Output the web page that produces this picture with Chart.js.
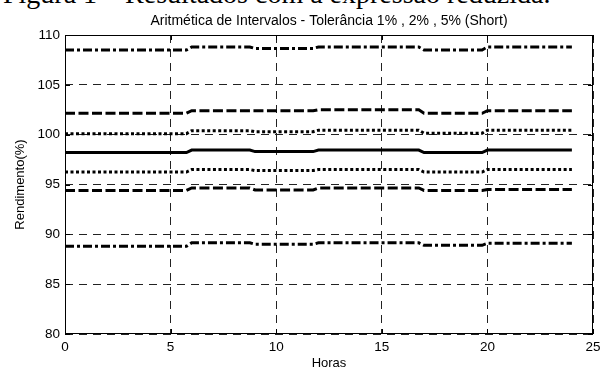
<!DOCTYPE html>
<html>
<head>
<meta charset="utf-8">
<script src="https://cdn.jsdelivr.net/npm/chart.js@4/dist/chart.umd.min.js"></script>
<style>
    body { margin: 0; background: #fff; width: 612px; height: 371px; overflow: hidden; position: relative; }
    #caption { position: absolute; left: 3px; top: -20px; font-family: "Liberation Serif", "Times New Roman", serif; font-size: 28px; line-height: 28px; white-space: nowrap; color: #000; }
    #chart { position: absolute; left: 0; top: 0; }
</style>
</head>
<body>
<div id="caption">Figura 1 – Resultados com a expressão reduzida.</div>
<canvas id="chart" width="612" height="371"></canvas>
<script>
const hours = [0, 5.75, 6, 8.75, 9, 11.75, 12, 16.75, 17, 19.75, 20, 24];

const upper5 = [108.5, 108.5, 108.8, 108.8, 108.65, 108.65, 108.8, 108.8, 108.5, 108.5, 108.8, 108.8];
const upper2 = [102.15, 102.15, 102.4, 102.4, 102.4, 102.4, 102.5, 102.5, 102.15, 102.15, 102.4, 102.4];
const upper1 = [100.1, 100.1, 100.4, 100.4, 100.3, 100.3, 100.45, 100.45, 100.15, 100.15, 100.45, 100.45];
const nominal = [98.2, 98.2, 98.45, 98.45, 98.3, 98.3, 98.45, 98.45, 98.2, 98.2, 98.45, 98.45];
const lower1 = [96.25, 96.25, 96.5, 96.5, 96.4, 96.4, 96.5, 96.5, 96.25, 96.25, 96.5, 96.5];
const lower2 = [94.4, 94.4, 94.65, 94.65, 94.45, 94.45, 94.65, 94.65, 94.4, 94.4, 94.5, 94.5];
const lower5 = [88.8, 88.8, 89.15, 89.15, 89.0, 89.0, 89.15, 89.15, 88.9, 88.9, 89.1, 89.1];

const chartTitle = 'Aritmética de Intervalos - Tolerância 1% , 2% , 5% (Short)';
const xLabel = 'Horas';
const yLabel = 'Rendimento(%)';

const font = 'Liberation Sans, Arial, Helvetica, sans-serif';

function toPoints(values) {
    return values.map((v, i) => ({x: hours[i], y: v}));
}

function makeLine(values, dash, width) {
    return {
        data: toPoints(values),
        borderColor: '#000',
        borderWidth: width,
        borderDash: dash,
        borderCapStyle: 'butt',
        pointRadius: 0,
        tension: 0,
        fill: false
    };
}

// matlab style box, inner ticks and title
const axesBox = {
    id: 'axesBox',
    afterDraw(chart) {
        const {ctx, chartArea: a, scales: {x, y}} = chart;
        ctx.save();
        ctx.strokeStyle = '#000';
        ctx.lineWidth = 1;
        ctx.setLineDash([]);
        ctx.strokeRect(a.left + 0.5, a.top + 0.5, a.right - a.left - 1, a.bottom - a.top - 1);
        ctx.beginPath();
        x.ticks.forEach(t => {
            const px = Math.round(x.getPixelForValue(t.value)) + 0.5;
            ctx.moveTo(px, a.bottom); ctx.lineTo(px, a.bottom - 5);
            ctx.moveTo(px, a.top); ctx.lineTo(px, a.top + 5);
        });
        y.ticks.forEach(t => {
            const py = Math.round(y.getPixelForValue(t.value)) + 0.5;
            ctx.moveTo(a.left, py); ctx.lineTo(a.left + 5, py);
            ctx.moveTo(a.right, py); ctx.lineTo(a.right - 5, py);
        });
        ctx.stroke();
        ctx.fillStyle = '#000';
        ctx.font = '14px ' + font;
        ctx.textAlign = 'center';
        ctx.textBaseline = 'alphabetic';
        ctx.fillText(chartTitle, (a.left + a.right) / 2, a.top - 10);
        ctx.restore();
    }
};

const ctx = document.getElementById('chart').getContext('2d');
new Chart(ctx, {
    type: 'line',
    data: {
        datasets: [
            makeLine(upper5, [9, 3, 3, 3], 3),
            makeLine(upper2, [10, 3.5], 3),
            makeLine(upper1, [3, 2.5], 3),
            makeLine(nominal, [], 3),
            makeLine(lower1, [3, 2.5], 3),
            makeLine(lower2, [10, 3.5], 3),
            makeLine(lower5, [9, 3, 3, 3], 3)
        ]
    },
    options: {
        responsive: false,
        animation: false,
        layout: {padding: {top: 35, right: 19, bottom: 0, left: 0}},
        plugins: {
            legend: {display: false},
            tooltip: {enabled: false},
            title: {display: false}
        },
        scales: {
            x: {
                type: 'linear',
                min: 0,
                max: 25,
                ticks: {stepSize: 5, padding: 5, color: '#000', font: {family: font, size: 13.5}},
                grid: {color: '#222', lineWidth: 1, drawTicks: false},
                border: {display: false, dash: [8, 6]},
                title: {display: true, text: xLabel, color: '#000', font: {family: font, size: 13}, padding: {top: 0, bottom: 0}},
                afterFit(scale) { scale.height = 37; }
            },
            y: {
                min: 80,
                max: 110,
                ticks: {stepSize: 5, padding: 5, color: '#000', font: {family: font, size: 13.5}},
                grid: {color: '#222', lineWidth: 1, drawTicks: false},
                border: {display: false, dash: [8, 6]},
                title: {display: true, text: yLabel, color: '#000', font: {family: font, size: 13}, padding: {top: 13, bottom: 0}},
                afterFit(scale) { scale.width = 65; }
            }
        }
    },
    plugins: [axesBox]
});
</script>
</body>
</html>
